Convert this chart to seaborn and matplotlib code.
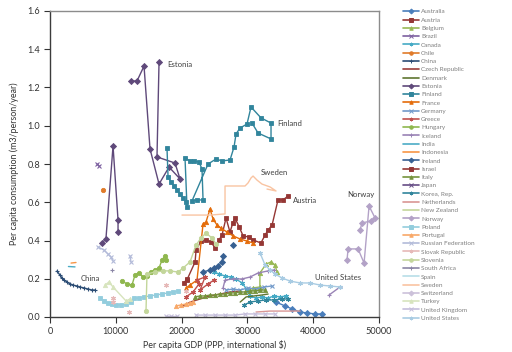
import numpy as np
import pandas as pd
import matplotlib
matplotlib.use("Agg")
import matplotlib.pyplot as plt
import seaborn as sns
from matplotlib.lines import Line2D

sns.set_theme(style="white")
plt.rcParams['font.family'] = ['Lato', 'DejaVu Sans']

STAR = (6, 2, 0)

countries = ["Australia", "Austria", "Belgium", "Brazil", "Canada", "Chile", "China",
             "Czech Republic", "Denmark", "Estonia", "Finland", "France", "Germany",
             "Greece", "Hungary", "Iceland", "India", "Indonesia", "Ireland", "Israel",
             "Italy", "Japan", "Korea, Rep.", "Netherlands", "New Zealand", "Norway",
             "Poland", "Portugal", "Russian Federation", "Slovak Republic", "Slovenia",
             "South Africa", "Spain", "Sweden", "Switzerland", "Turkey",
             "United Kingdom", "United States"]

colors = ["#4A7EBB", "#953735", "#98B954", "#7D60A0", "#46AAC5", "#E07B2A", "#2C4D75",
          "#9C3D3A", "#5F7530", "#5F497A", "#31859C", "#E46C0A", "#729ACA",
          "#C0504D", "#8FB74E", "#9983B5", "#4BACC6", "#F79646", "#376092", "#953735",
          "#76933C", "#664D85", "#31859C", "#D99694", "#C3D69B", "#B3A2C7",
          "#93CDDD", "#F8A868", "#B3BBD9", "#E6B9B8", "#C3D69B",
          "#8B86A6", "#B7DEE8", "#F9C4A2", "#CCC1DA", "#D7E4BD",
          "#C5BEDB", "#A9CCE3"]

markers = ["D", "s", "^", "x", STAR, "o", "+",
           None, None, "D", "s", "^", "x",
           STAR, "o", "+", None, None, "D", "s",
           "^", "x", STAR, None, None, "D",
           "s", "^", "x", STAR, "o",
           "+", None, None, "D", "^",
           "x", STAR]

# ---- data: per-capita GDP (PPP, intl $) and consumption (m3/person/year) ----
aus_gdp = [34350, 35700, 36800, 38000, 39050, 40300, 41350]
aus_con = [0.078, 0.058, 0.042, 0.026, 0.021, 0.016, 0.016]

aut_gdp = [20800, 22050, 22200, 22950, 23700, 24450, 25100, 25700, 26150, 26750, 27350, 27800,
           28100, 28750, 29350, 30250, 30850, 32050, 32700, 33150, 33750, 34650, 35400, 36200]
aut_con = [0.193, 0.288, 0.350, 0.397, 0.403, 0.392, 0.361, 0.403, 0.429, 0.518, 0.444, 0.492,
           0.518, 0.471, 0.424, 0.418, 0.403, 0.387, 0.429, 0.455, 0.481, 0.612, 0.612, 0.633]

bel_gdp = [30850, 31900, 31900, 32850, 33600, 34200, 34500]
bel_con = [0.152, 0.157, 0.230, 0.277, 0.288, 0.272, 0.235]

bra_gdp = [7150, 7450]
bra_con = [0.800, 0.790]

can_gdp = [24950, 25700, 26600, 27500, 28250, 29200, 29950, 30400, 31300, 32200, 33150, 34050,
           34950, 35850]
can_con = [0.235, 0.225, 0.214, 0.209, 0.199, 0.178, 0.141, 0.110, 0.099, 0.105, 0.099, 0.110,
           0.105, 0.110]

chl_gdp = [8050]
chl_con = [0.664]

chn_gdp = [1050, 1500, 1800, 2150, 2600, 3050, 3500, 4100, 4550, 5150, 5800, 6400, 6850]
chn_con = [0.240, 0.220, 0.204, 0.193, 0.183, 0.173, 0.167, 0.162, 0.157, 0.152, 0.146,
           0.141, 0.141]

cze_gdp = [19900, 21300, 22800, 24300, 25850, 27350, 28900]
cze_con = [0.052, 0.078, 0.094, 0.110, 0.120, 0.131, 0.136]

dnk_gdp = [28900, 29800, 31000, 32200, 33150]
dnk_con = [0.078, 0.105, 0.110, 0.115, 0.120]

est_gdp = [7900, 8500, 9580, 10340, 10340,
           12310, 13220, 14290, 15200, 16570, 18090, 19760, 19000, 16260, 16570]
est_con = [0.387, 0.408, 0.894, 0.507, 0.444,
           1.234, 1.234, 1.312, 0.879, 0.695, 0.784, 0.722, 0.805, 0.837, 1.333]
est_seg = [0, 0, 0, 0, 0, 1, 1, 1, 1, 1, 1, 1, 1, 1, 1]

fin_gdp = [17780, 17940, 18390, 18850, 19300, 19760, 20220, 20670, 20820, 20520, 21280,
           21890, 22650, 23100, 23260, 22340, 21580, 24020, 25230, 26140, 27360, 27970,
           28270, 28880, 29940, 30550, 32070, 33590, 33590, 31620, 30700]
fin_con = [0.884, 0.732, 0.706, 0.685, 0.664, 0.643, 0.622, 0.601, 0.575, 0.831, 0.816,
           0.816, 0.810, 0.774, 0.612, 0.612, 0.607, 0.800, 0.826, 0.816, 0.821, 0.889,
           0.957, 0.988, 1.009, 1.098, 1.041, 1.014, 0.931, 0.962, 1.014]

fra_gdp = [20670, 21280, 22340, 23260, 23710, 24320, 24780, 25380, 25990, 26900, 27820,
           28880, 29940, 30860]
fra_con = [0.152, 0.167, 0.193, 0.486, 0.497, 0.565, 0.512, 0.481, 0.465, 0.444, 0.424,
           0.408, 0.397, 0.387]

deu_gdp = [26750, 27820, 28880, 30100, 31310, 32530, 33740]
deu_con = [0.141, 0.146, 0.141, 0.152, 0.146, 0.157, 0.162]

grc_gdp = [20670, 21740, 22650, 22340, 23560, 22800, 24020, 24930]
grc_con = [0.105, 0.131, 0.173, 0.193, 0.209, 0.141, 0.173, 0.193]

hun_gdp = [10940, 11700, 12460, 12920, 13530, 14140, 14740, 15350, 15960, 16570, 17020,
           17480, 17630]
hun_con = [0.188, 0.173, 0.167, 0.220, 0.230, 0.209, 0.214, 0.235, 0.246, 0.256, 0.298,
           0.319, 0.298]

isl_gdp = [26300, 26600, 27820, 29180, 30400, 31620, 33140, 34050, 42410, 44080]
isl_con = [0.152, 0.193, 0.199, 0.199, 0.209, 0.230, 0.241, 0.246, 0.115, 0.157]
isl_seg = [0, 0, 0, 0, 0, 0, 0, 0, 1, 1]

ind_gdp = [2800, 3800]
ind_con = [0.264, 0.262]

idn_gdp = [3200, 3950]
idn_con = [0.282, 0.285]

irl_gdp = [23260, 24320, 24930, 25540, 26140, 26300, 27820]
irl_con = [0.235, 0.246, 0.256, 0.267, 0.288, 0.319, 0.376]
irl_seg = [0, 0, 0, 0, 0, 0, 1]

isr_gdp = [20350, 20820]
isr_con = [0.178, 0.199]

ita_gdp = [22040, 22800, 23560, 24320, 25080, 25840, 26600, 27360, 28120, 28880, 29640,
           30400, 31160, 31920, 32680]
ita_con = [0.105, 0.110, 0.110, 0.115, 0.115, 0.120, 0.120, 0.126, 0.126, 0.131, 0.131,
           0.136, 0.136, 0.141, 0.141]

kor_gdp = [29500, 30400, 31600, 32800, 34000, 35200, 36150]
kor_con = [0.063, 0.078, 0.084, 0.089, 0.089, 0.094, 0.094]

nld_gdp = [31310, 33440, 35720, 38000]
nld_con = [0.026, 0.031, 0.031, 0.031]

nor_gdp = [45140, 45300, 46820, 47730, 48490, 49400, 48790, 47420, 47120]
nor_con = [0.298, 0.356, 0.356, 0.282, 0.580, 0.518, 0.502, 0.492, 0.455]

pol_gdp = [7600, 8210, 8820, 9420, 10030, 10790, 11550, 12310, 12770, 13530, 14290, 15200,
           16110, 17020, 17940, 18650, 19460]
pol_con = [0.099, 0.084, 0.073, 0.068, 0.063, 0.063, 0.068, 0.078, 0.099, 0.099, 0.105,
           0.110, 0.115, 0.120, 0.126, 0.131, 0.136]

prt_gdp = [19150, 19910, 20670, 21280, 21740]
prt_con = [0.058, 0.063, 0.068, 0.073, 0.078]

rus_gdp = [7300, 8210, 8820, 9270, 9580, 12160, 12310]
rus_con = [0.366, 0.350, 0.329, 0.314, 0.293, 0.319, 0.288]
rus_seg = [0, 0, 0, 0, 0, 1, 1]

svk_gdp = [9580, 9580, 12010, 17630, 20670]
svk_con = [0.099, 0.078, 0.026, 0.167, 0.136]
svk_seg = [0, 0, 1, 2, 3]

svn_gdp = [14590, 14740, 15960, 17180, 18240, 19460, 20220, 21280, 22190, 22950, 23710,
           24620, 25230]
svn_con = [0.031, 0.225, 0.235, 0.241, 0.241, 0.235, 0.256, 0.288, 0.376, 0.413, 0.439,
           0.413, 0.382]

zaf_gdp = [9350]
zaf_con = [0.246]

swe_gdp = [20060, 24320, 26600, 26600, 29640, 30100, 30550, 30860, 31460, 32220, 33440,
           34350, 32980]
swe_con = [0.533, 0.533, 0.539, 0.685, 0.685, 0.701, 0.727, 0.737, 0.716, 0.695, 0.680,
           0.659, 0.669]

tur_gdp = [8360, 8970, 9580, 11550, 12160]
tur_con = [0.167, 0.183, 0.157, 0.084, 0.094]

gbr_gdp = [17580, 18340, 19250, 22190, 23560, 25080, 26600, 28120, 29640, 31160, 32680, 34200]
gbr_con = [0.005, 0.005, 0.005, 0.010, 0.010, 0.010, 0.010, 0.010, 0.016, 0.016, 0.016, 0.016]
gbr_seg = [0, 0, 0, 1, 1, 1, 1, 1, 1, 1, 1, 1]

usa_gdp = [31920, 32680, 33440, 34200, 35260, 36480, 38000, 39520, 41040, 42560, 44080]
usa_con = [0.335, 0.272, 0.246, 0.225, 0.204, 0.188, 0.178, 0.178, 0.167, 0.162, 0.157]

series = {
    "Australia": (aus_gdp, aus_con, None), "Austria": (aut_gdp, aut_con, None),
    "Belgium": (bel_gdp, bel_con, None), "Brazil": (bra_gdp, bra_con, None),
    "Canada": (can_gdp, can_con, None), "Chile": (chl_gdp, chl_con, None),
    "China": (chn_gdp, chn_con, None), "Czech Republic": (cze_gdp, cze_con, None),
    "Denmark": (dnk_gdp, dnk_con, None), "Estonia": (est_gdp, est_con, est_seg),
    "Finland": (fin_gdp, fin_con, None), "France": (fra_gdp, fra_con, None),
    "Germany": (deu_gdp, deu_con, None), "Greece": (grc_gdp, grc_con, None),
    "Hungary": (hun_gdp, hun_con, None), "Iceland": (isl_gdp, isl_con, isl_seg),
    "India": (ind_gdp, ind_con, None), "Indonesia": (idn_gdp, idn_con, None),
    "Ireland": (irl_gdp, irl_con, irl_seg), "Israel": (isr_gdp, isr_con, None),
    "Italy": (ita_gdp, ita_con, None), "Korea, Rep.": (kor_gdp, kor_con, None),
    "Netherlands": (nld_gdp, nld_con, None), "Norway": (nor_gdp, nor_con, None),
    "Poland": (pol_gdp, pol_con, None), "Portugal": (prt_gdp, prt_con, None),
    "Russian Federation": (rus_gdp, rus_con, rus_seg),
    "Slovak Republic": (svk_gdp, svk_con, svk_seg), "Slovenia": (svn_gdp, svn_con, None),
    "South Africa": (zaf_gdp, zaf_con, None), "Sweden": (swe_gdp, swe_con, None),
    "Turkey": (tur_gdp, tur_con, None), "United Kingdom": (gbr_gdp, gbr_con, gbr_seg),
    "United States": (usa_gdp, usa_con, None),
}

labels_txt = ["Estonia", "Finland", "Sweden", "Austria", "Norway", "United States", "China"]
labels_x = [17800, 34500, 32100, 36950, 45150, 40300, 4700]
labels_y = [1.318, 1.014, 0.753, 0.607, 0.638, 0.209, 0.199]

fig = plt.figure(figsize=(5.12, 3.52), dpi=100)
ax = fig.add_axes([50 / 512, 35 / 352, 329 / 512, 306 / 352])

for name, col, mk in zip(countries, colors, markers):
    if name not in series:
        continue
    gx, gy, seg = series[name]
    if seg is None:
        seg = [0] * len(gx)
    df = pd.DataFrame({"gdp": gx, "cons": gy, "seg": seg})
    kw = dict(color=col, linewidth=1.0, markeredgecolor=col, markerfacecolor=col,
              markeredgewidth=0.6, markersize=3.1)
    if mk is not None:
        kw["marker"] = mk
        if mk in ("x", "+", STAR):
            kw["markersize"] = 3.4
            kw["markeredgewidth"] = 0.8
        if mk == "s":
            kw["markersize"] = 3.4
    sns.lineplot(data=df, x="gdp", y="cons", units="seg", estimator=None, sort=False,
                 ax=ax, legend=False, **kw)

for t, x, y in zip(labels_txt, labels_x, labels_y):
    ax.text(x, y, t, fontsize=5.6, color="#404040", va="center", ha="left")

ax.set_xlim(0, 50000)
ax.set_ylim(0, 1.6)
ax.set_xticks([0, 10000, 20000, 30000, 40000, 50000])
ax.set_yticks(np.arange(0, 1.61, 0.2))
ax.set_yticklabels([f"{v:.1f}" for v in np.arange(0, 1.61, 0.2)])
ax.tick_params(axis="both", labelsize=6.6, colors="#333333", length=4, width=0.8,
               direction="out", pad=3)
ax.tick_params(axis="both", which="both", bottom=True, left=True)
ax.set_xlabel("Per capita GDP (PPP, international $)", fontsize=6.4, color="#333333",
              labelpad=3)
ax.set_ylabel("Per capita consumption (m3/person/year)", fontsize=6.4, color="#333333",
              labelpad=6)
for s in ["left", "bottom"]:
    ax.spines[s].set_color("#3c3c3c")
    ax.spines[s].set_linewidth(1.0)
for s in ["top", "right"]:
    ax.spines[s].set_color("#8c8c8c")
    ax.spines[s].set_linewidth(1.0)

handles = []
for name, col, mk in zip(countries, colors, markers):
    h = Line2D([0], [0], color=col, linewidth=1.2, marker=mk if mk is not None else None,
               markersize=2.5, markeredgecolor=col, markerfacecolor=col, markeredgewidth=0.7)
    handles.append(h)
fig.legend(handles, countries, loc="upper left", bbox_to_anchor=(403 / 512, 1 - 9 / 352),
           frameon=False, fontsize=4.6, labelspacing=0.44, handlelength=2.5,
           handletextpad=0.3, borderaxespad=0, borderpad=0, labelcolor="#7f7f7f")

fig.savefig("out.png", dpi=100)
